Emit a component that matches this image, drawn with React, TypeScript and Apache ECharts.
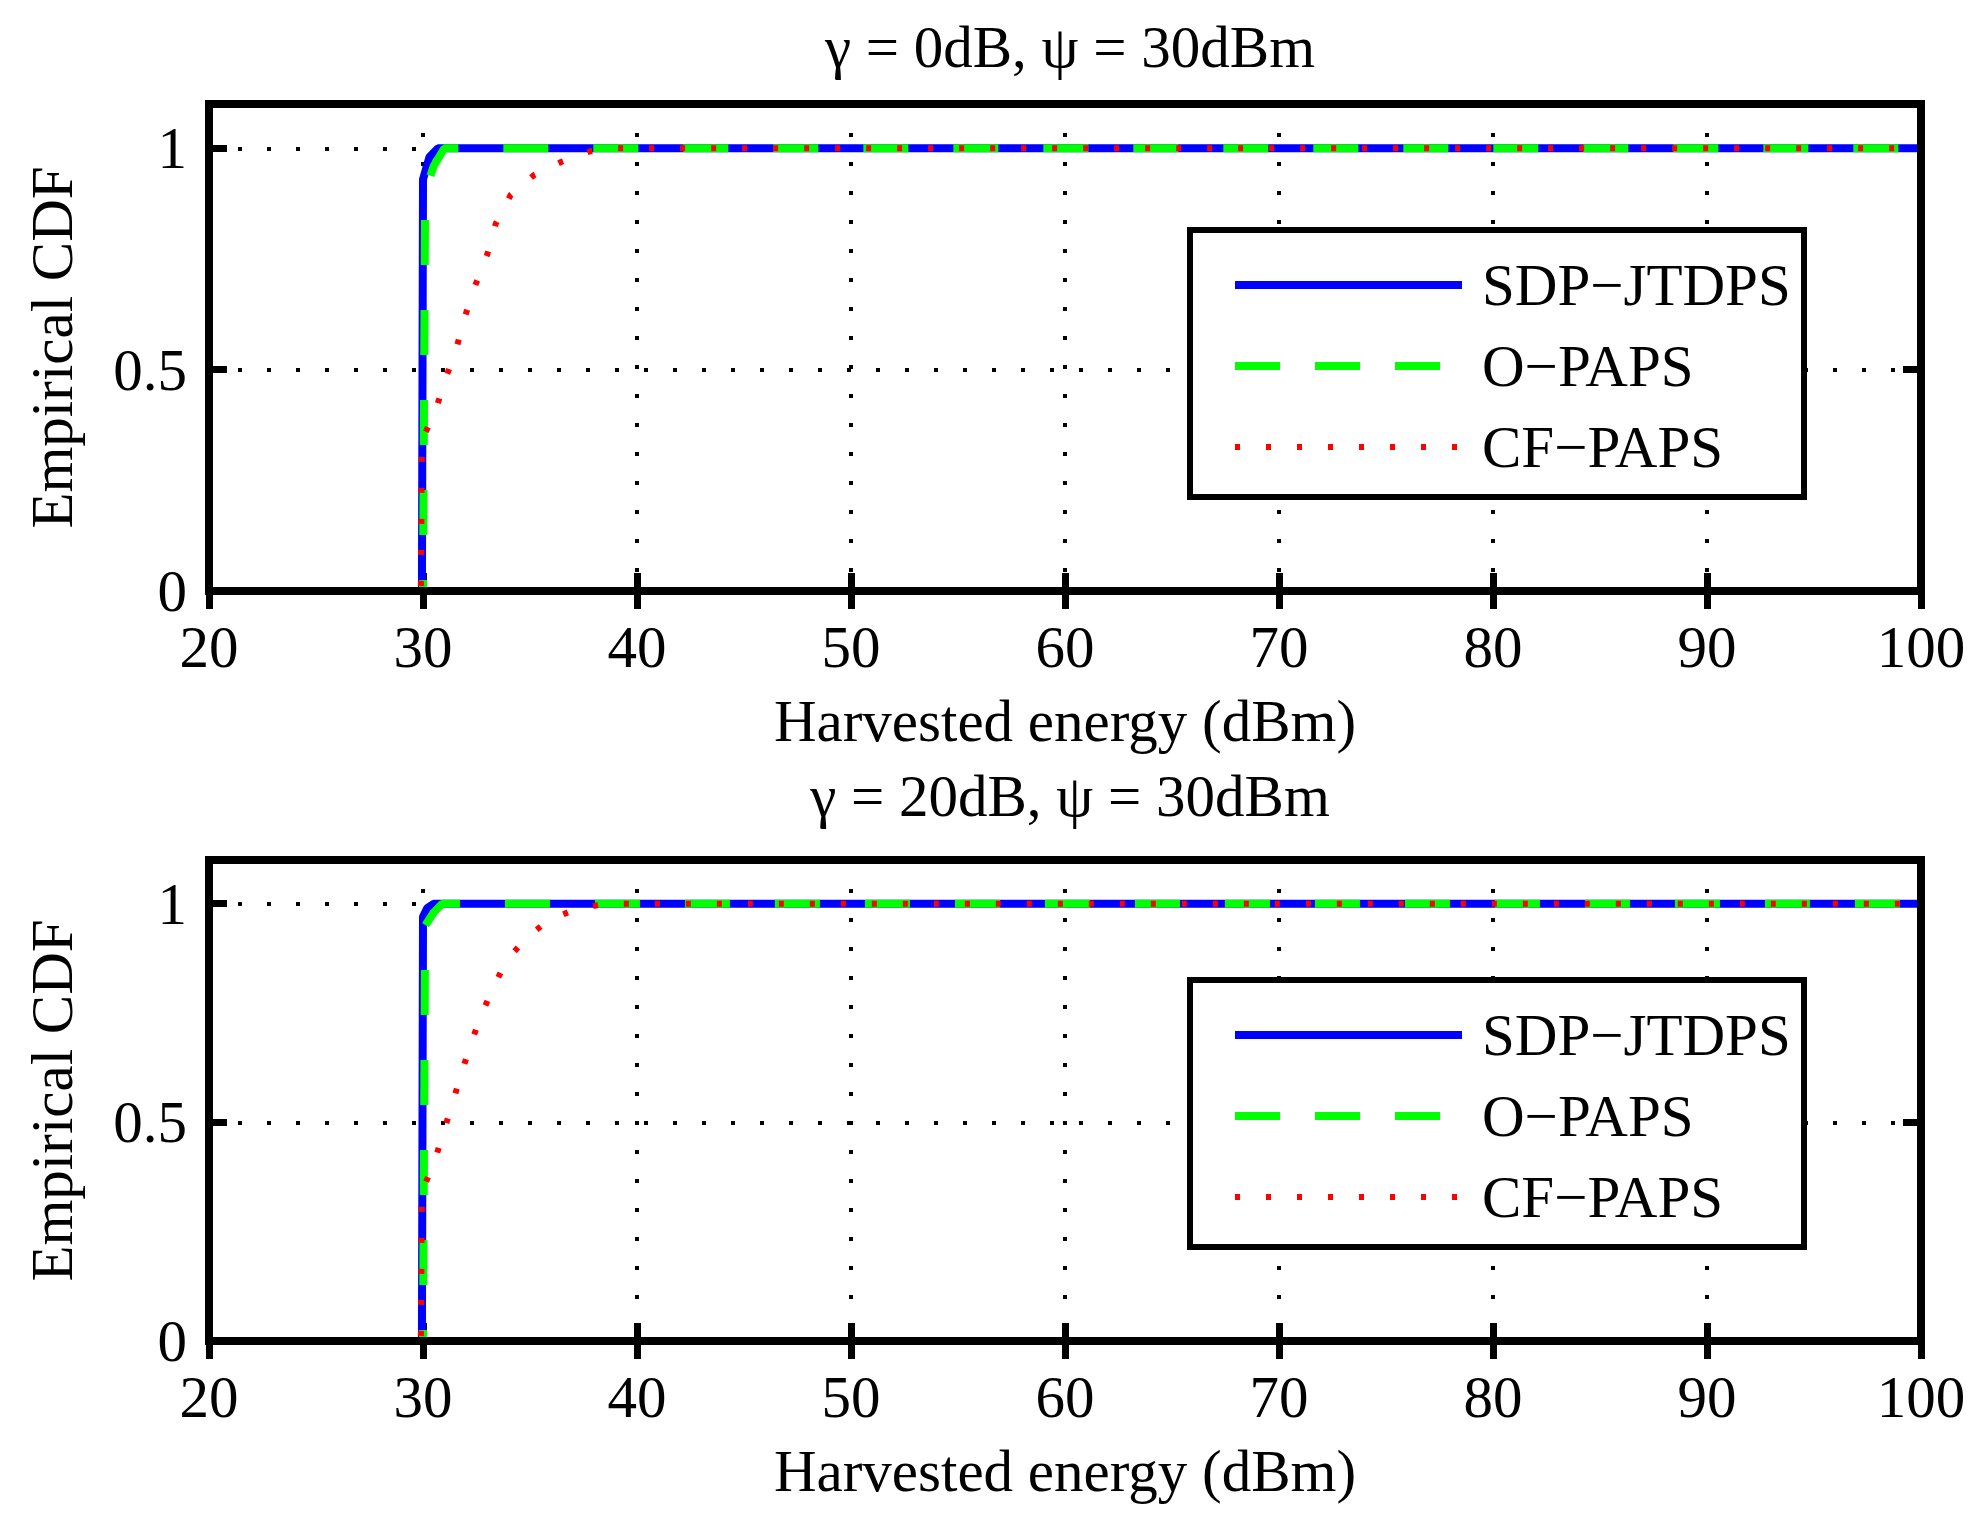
import React, { useEffect, useRef } from "react";
import * as echarts from "echarts";

const titles = ["γ = 0dB, ψ = 30dBm", "γ = 20dB, ψ = 30dBm"];
const seriesNames = ["SDP−JTDPS", "O−PAPS", "CF−PAPS"];
const yTicks = [0, 0.5, 1];

const sdpTop = [[20, 0], [29.95, 0], [30, 0.93], [30.3, 0.98], [30.7, 1], [100, 1]];
const opapsTop = [[20, 0], [30, 0], [30.1, 0.9], [30.5, 0.96], [31, 1], [100, 1]];
const cfTop = [[20, 0], [29.9, 0], [29.95, 0.34], [30.6, 0.41], [31.06, 0.48], [31.57, 0.55], [31.96, 0.62], [32.44, 0.69], [33.0, 0.76], [33.4, 0.83], [34.1, 0.895], [35.2, 0.94], [36.5, 0.97], [37.8, 0.993], [39, 1], [100, 1]];

const sdpBot = [[20, 0], [29.95, 0], [30, 0.97], [30.2, 0.99], [30.5, 1], [100, 1]];
const opapsBot = [[20, 0], [30, 0], [30.1, 0.95], [30.5, 0.98], [30.9, 1], [100, 1]];
const cfBot = [[20, 0], [29.9, 0], [29.95, 0.34], [30.6, 0.42], [31.1, 0.5], [31.6, 0.58], [32.1, 0.66], [32.6, 0.73], [33.2, 0.8], [33.9, 0.87], [34.8, 0.92], [35.8, 0.96], [37, 0.985], [38.5, 1], [100, 1]];

const FONT = "'Liberation Serif', 'Times New Roman', serif";
const FS = 59;

export default function App() {
  const ref = useRef<HTMLDivElement>(null);
  useEffect(() => {
    const chart = echarts.init(ref.current!, undefined, { renderer: "svg" });
    const grids = [
      { left: 209, right: 63, top: 104, height: 487, show: true, borderColor: "#000", borderWidth: 8, z: 5 },
      { left: 209, right: 63, top: 860, height: 481, show: true, borderColor: "#000", borderWidth: 8, z: 5 },
    ];
    const xAxis: any[] = [];
    const yAxis: any[] = [];
    const tick = { inside: true, length: 18, lineStyle: { color: "#000", width: 7 } };
    grids.forEach((_, i) => {
      xAxis.push({
        type: "value", gridIndex: i, min: 20, max: 100, interval: 10,
        name: "Harvested energy (dBm)", nameLocation: "middle", nameGap: 100,
        nameTextStyle: { fontFamily: FONT, fontSize: FS, color: "#000" },
        axisLine: { lineStyle: { color: "#000", width: 8 } },
        axisTick: tick,
        axisLabel: { fontFamily: FONT, fontSize: FS, color: "#000", margin: 26 },
        splitLine: { show: true, showMinLine: false, showMaxLine: false, lineStyle: { color: "#000", width: 4, type: [4, 25] } },
      });
      xAxis.push({
        type: "value", gridIndex: i, min: 20, max: 100, interval: 10, position: "top",
        axisLine: { lineStyle: { color: "#000", width: 8 } },
        axisTick: tick,
        axisLabel: { show: false }, splitLine: { show: false },
      });
      yAxis.push({
        type: "value", gridIndex: i, min: 0, max: 1.1, interval: 0.5,
        name: "Empirical CDF", nameLocation: "middle", nameGap: 128,
        nameTextStyle: { fontFamily: FONT, fontSize: FS, color: "#000" },
        axisLine: { show: true, lineStyle: { color: "#000", width: 8 } },
        axisTick: tick,
        axisLabel: {
          fontFamily: FONT, fontSize: FS, color: "#000", margin: 22, showMaxLabel: false,
          formatter: (v: number) => (yTicks.includes(v) ? String(v) : ""),
        },
        splitLine: { show: true, showMinLine: false, showMaxLine: false, lineStyle: { color: "#000", width: 4, type: [4, 25] } },
      });
      yAxis.push({
        type: "value", gridIndex: i, min: 0, max: 1.1, interval: 0.5, position: "right",
        axisLine: { show: true, lineStyle: { color: "#000", width: 8 } },
        axisTick: tick,
        axisLabel: { show: false }, splitLine: { show: false },
      });
    });
    const data = [[sdpTop, opapsTop, cfTop], [sdpBot, opapsBot, cfBot]];
    const series: any[] = [];
    data.forEach((set, i) => {
      const base = { type: "line", xAxisIndex: i * 2, yAxisIndex: i * 2, showSymbol: false, symbol: "none" };
      series.push({ ...base, name: seriesNames[0], data: set[0], lineStyle: { color: "#0000ff", width: 8 } });
      series.push({ ...base, name: seriesNames[1], data: set[1], lineStyle: { color: "#00ff00", width: 8, type: [45, 45] } });
      series.push({ ...base, name: seriesNames[2], data: set[2], lineStyle: { color: "#ff0000", width: 6, type: [5, 26] } });
    });
    const graphic: any[] = [];
    const legTops = [230, 980];
    legTops.forEach((t) => {
      graphic.push({ type: "rect", shape: { x: 1190, y: t, width: 614, height: 267 }, style: { fill: "#fff", stroke: "#000", lineWidth: 6 }, z: 100 });
      const styles = [
        { stroke: "#0000ff", lineWidth: 8 },
        { stroke: "#00ff00", lineWidth: 8, lineDash: [45, 35] },
        { stroke: "#ff0000", lineWidth: 6, lineDash: [5, 26] },
      ];
      seriesNames.forEach((n, k) => {
        const cy = t + 55 + k * 81;
        graphic.push({ type: "line", shape: { x1: 1235, y1: cy, x2: 1462, y2: cy }, style: styles[k], z: 101 });
        graphic.push({ type: "text", x: 1482, y: cy, style: { text: n, fontFamily: FONT, fontSize: FS, fill: "#000", verticalAlign: "middle" }, z: 101 });
      });
    });
    chart.setOption({
      animation: false,
      backgroundColor: "#fff",
      title: titles.map((t, i) => ({
        text: t, left: 1065, top: i === 0 ? 12 : 761, textAlign: "center",
        textStyle: { fontFamily: FONT, fontSize: FS, fontWeight: "normal", color: "#000" },
      })),
      grid: grids,
      xAxis, yAxis, series, graphic,
    });
    return () => chart.dispose();
  }, []);
  return <div ref={ref} style={{ width: 1984, height: 1521, margin: -8 }} />;
}
